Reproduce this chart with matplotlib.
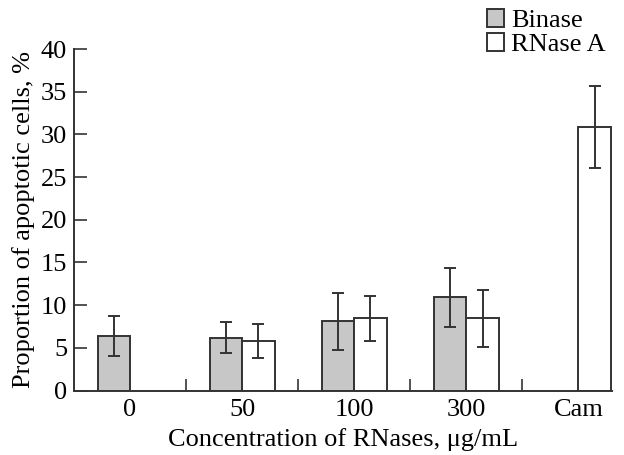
import matplotlib
matplotlib.use("Agg")
import matplotlib.pyplot as plt
import numpy as np

categories = ["0", "50", "100", "300", "Cam"]
binase = [6.4, 6.2, 8.1, 10.9, np.nan]
binase_err = [2.35, 1.8, 3.3, 3.5, np.nan]
rnase = [np.nan, 5.8, 8.45, 8.45, 30.85]
rnase_err = [np.nan, 2.0, 2.6, 3.3, 4.8]

plt.rcParams['font.family'] = ['Liberation Serif', 'DejaVu Serif']
FS = 19
edge = '#333333'

fig = plt.figure(figsize=(6.24, 4.55), dpi=100)
ax = fig.add_axes([74/624, 1-390.5/455, (612-74)/624, (390.5-49)/455])

x = np.arange(len(categories))
w = 0.29
ekw = dict(ecolor=edge, elinewidth=1.4, capsize=4, capthick=1.4)
ax.bar(x - w/2, binase, w, yerr=binase_err, color='#c6c7c6', edgecolor=edge,
       linewidth=1.4, error_kw=ekw, label='Binase')
ax.bar(x + w/2, rnase, w, yerr=rnase_err, color='white', edgecolor=edge,
       linewidth=1.4, error_kw=ekw, label='RNase A')

ax.set_xlim(-0.5, 4.3)
ax.set_ylim(0, 40)
ax.set_yticks(np.arange(0, 41, 5))
ax.set_xticks(x)
ax.set_xticklabels(categories)
ax.set_xticks(x[:-1] + 0.5, minor=True)
ax.tick_params(axis='x', which='major', length=0, pad=6, labelsize=FS)
ax.tick_params(axis='x', which='minor', direction='in', length=9, width=1.2, color=edge)
ax.tick_params(axis='y', direction='in', length=9, width=1.2, color=edge, pad=5, labelsize=FS)
for s in ['top', 'right']:
    ax.spines[s].set_visible(False)
for s in ['left', 'bottom']:
    ax.spines[s].set_linewidth(1.4)
    ax.spines[s].set_color(edge)

ax.set_xlabel('Concentration of RNases, μg/mL', fontsize=FS, labelpad=5)
ax.set_ylabel('Proportion of apoptotic cells, %', fontsize=FS, labelpad=4)

leg = fig.legend(loc='upper left', bbox_to_anchor=(487/624, 1 - 9/455), frameon=False,
                 fontsize=FS, handlelength=0.65, handleheight=0.65, handletextpad=0.25,
                 labelspacing=0.05, borderaxespad=0, borderpad=0.0)

fig.savefig('out.png', dpi=100)
